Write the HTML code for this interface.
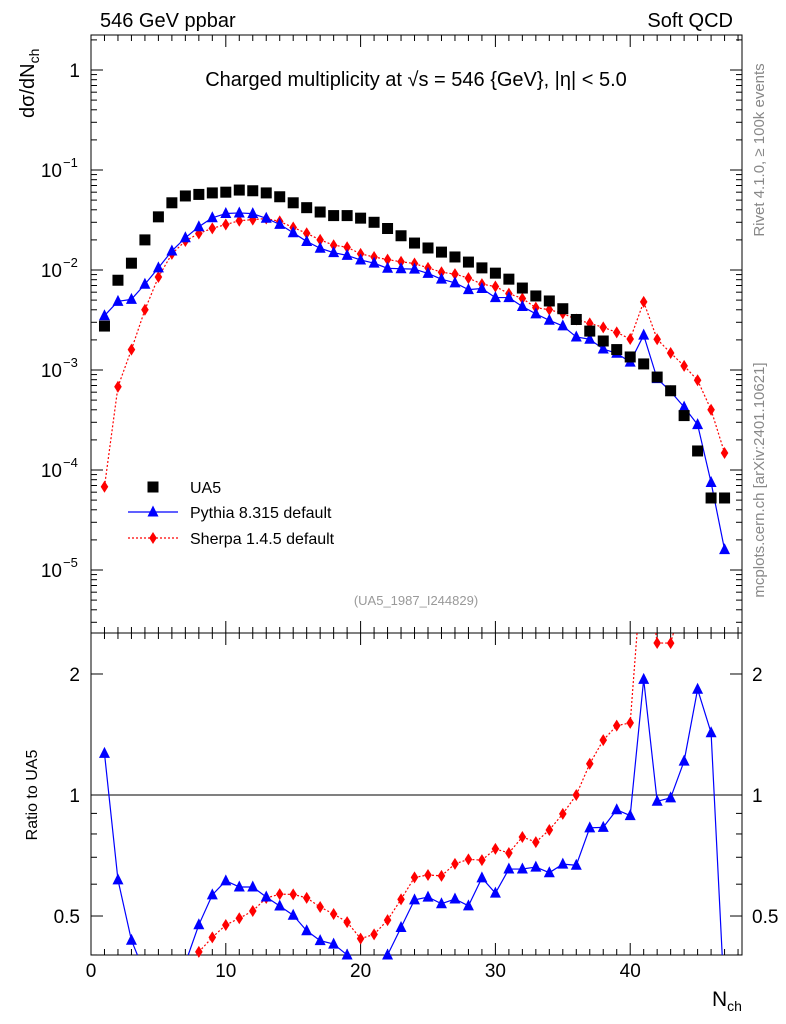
<!DOCTYPE html>
<html><head><meta charset="utf-8"><style>
html,body{margin:0;padding:0;background:#fff;overflow:hidden;width:786px;height:1024px;}
svg{display:block;font-family:"Liberation Sans",sans-serif;}
</style></head><body>
<svg id="chart" width="786" height="1024" viewBox="0 0 786 1024" xmlns="http://www.w3.org/2000/svg"></svg>
<script>
const nch = [1,2,3,4,5,6,7,8,9,10,11,12,13,14,15,16,17,18,19,20,21,22,23,24,25,26,27,28,29,30,31,32,33,34,35,36,37,38,39,40,41,42,43,44,45,46,47];
const ua5 = [0.00275,0.0079,0.0117,0.02,0.034,0.047,0.055,0.057,0.059,0.06,0.063,0.062,0.059,0.054,0.047,0.042,0.038,0.035,0.035,0.033,0.030,0.026,0.022,0.0186,0.0166,0.0151,0.0135,0.012,0.0105,0.0093,0.0081,0.0066,0.0055,0.0049,0.0041,0.0032,0.00245,0.00195,0.0016,0.00135,0.00115,0.00085,0.00062,0.00035,0.000155,0.0000525,0.0000525];
const pythia = [0.00349,0.00486,0.00509,0.0072,0.0105,0.0155,0.021,0.0271,0.0333,0.0367,0.0372,0.0366,0.0329,0.0286,0.0236,0.0193,0.0165,0.0149,0.014,0.0126,0.0117,0.0104,0.0103,0.0102,0.00925,0.0081,0.00744,0.00636,0.00653,0.0053,0.0053,0.00432,0.00364,0.00314,0.00276,0.00214,0.00203,0.00162,0.00147,0.0012,0.00223,0.00082,0.00061,0.000425,0.000284,0.000075,0.000016];
const sherpa = [0.000068,0.00068,0.0016,0.004,0.0085,0.0145,0.0195,0.0232,0.0261,0.0285,0.0311,0.0319,0.0327,0.0306,0.0266,0.0233,0.02,0.0177,0.0169,0.0145,0.0135,0.0127,0.0121,0.0116,0.0105,0.0095,0.0091,0.0083,0.00723,0.00683,0.00581,0.00519,0.0042,0.00401,0.00368,0.0032,0.00293,0.00267,0.00238,0.00204,0.0048,0.00203,0.00148,0.0011,0.00079,0.0004,0.000148];
const xTicks = [0,10,20,30,40];
const yDecades = [0,-1,-2,-3,-4,-5];
const ratioTicks = [0.5,1,2];

const NS="http://www.w3.org/2000/svg";
const svg=document.getElementById('chart');
const L=91,R=742,T1=35,B1=633,T2=633,B2=955;
const X=v=>L+v*13.48;
const Y=v=>70-100*Math.log10(v);
const YR=v=>795-402*Math.log10(v);
function el(tag,attrs,parent){const e=document.createElementNS(NS,tag);for(const k in attrs)e.setAttribute(k,attrs[k]);(parent||svg).appendChild(e);return e;}
function txt(s,attrs,parent){const e=el('text',attrs,parent);e.textContent=s;return e;}

const f1=el('rect',{x:L,y:T1,width:R-L,height:B1-T1,fill:'none',stroke:'#000','stroke-width':1});

const f2=el('rect',{x:L,y:T2,width:R-L,height:B2-T2,fill:'none',stroke:'#000','stroke-width':1});


const xt=el('g',{stroke:'#000','stroke-width':1});

for(let v=0;v<=48;v++){const x=X(v);if(x>R)break;const len=v%10===0?12:6;
 [[T1,1],[B1,-1],[T2,1],[B2,-1]].forEach(([y,d])=>el('line',{x1:x,x2:x,y1:y,y2:y+d*len},xt));}
xTicks.forEach(v=>{const t=txt(String(v),{x:X(v),y:977,'font-size':19,'text-anchor':'middle'});
 });
const xl=txt('N',{x:712,y:1006,'font-size':21});
const xls=el('tspan',{'font-size':14,dy:5},xl);xls.textContent='ch';

const yt=el('g',{stroke:'#000','stroke-width':1});

for(let d=-6;d<=0;d++){for(let m=1;m<10;m++){const v=m*Math.pow(10,d);const y=Y(v);if(y<T1||y>B1)continue;
 const len=m===1?12:6;el('line',{x1:L,x2:L+len,y1:y,y2:y},yt);el('line',{x1:R,x2:R-len,y1:y,y2:y},yt);}}
yDecades.forEach(d=>{const y=Y(Math.pow(10,d));
 let t;
 if(d===0){t=txt('1',{x:80,y:y+7,'font-size':19,'text-anchor':'end'});}
 else{t=txt('10',{x:62,y:y+7,'font-size':19,'text-anchor':'end'});
  const s=txt(String(d).replace('-','\u2212'),{x:63,y:y-3,'font-size':13});
  }
 });
const yl=el('text',{transform:'translate(34,118) rotate(-90)','font-size':20});

yl.textContent='dσ/dN';const yls=el('tspan',{'font-size':14,dy:5},yl);yls.textContent='ch';

const rt=el('g',{stroke:'#000','stroke-width':1});

[0.4,0.5,0.6,0.7,0.8,0.9,1,2].forEach(v=>{const y=YR(v);if(y<T2||y>B2)return;const len=(v===0.5||v===1||v===2)?12:6;
 el('line',{x1:L,x2:L+len,y1:y,y2:y},rt);el('line',{x1:R,x2:R-len,y1:y,y2:y},rt);});
ratioTicks.forEach(v=>{const y=YR(v);
 const a=txt(String(v),{x:80,y:y+7,'font-size':19,'text-anchor':'end'});
 const b=txt(String(v),{x:752,y:y+7,'font-size':19});});
const unity=el('line',{x1:L,x2:R,y1:YR(1),y2:YR(1),stroke:'#000','stroke-width':1});

const rl=txt('Ratio to UA5',{transform:'translate(37,795) rotate(-90)','font-size':16,'text-anchor':'middle'});


function marker(kind,x,y,color,g){
 if(kind==='sq')return el('rect',{x:x-5.5,y:y-5.5,width:11,height:11,fill:color},g);
 if(kind==='tri')return el('polygon',{points:`${x},${y-6.5} ${x+5.5},${y+4.5} ${x-5.5},${y+4.5}`,fill:color},g);
 return el('polygon',{points:`${x},${y-6} ${x+3.8},${y} ${x},${y+6} ${x-3.8},${y}`,fill:color},g);
}
function clipSeg(x1,y1,x2,y2,top,bot){
 // clip segment to y in [top,bot]
 let t0=0,t1=1;const dy=y2-y1;
 if(dy===0){if(y1<top||y1>bot)return null;}
 else{let ta=(top-y1)/dy,tb=(bot-y1)/dy;if(ta>tb)[ta,tb]=[tb,ta];t0=Math.max(t0,ta);t1=Math.min(t1,tb);if(t0>t1)return null;}
 return [x1+(x2-x1)*t0,y1+dy*t0,x1+(x2-x1)*t1,y1+dy*t1];
}
function series(vals,yf,top,bot,kind,color,dash,name,line){
 const g=el('g',{});
 
 if(line){let d='';
  for(let i=0;i<vals.length-1;i++){const s=clipSeg(X(nch[i]),yf(vals[i]),X(nch[i+1]),yf(vals[i+1]),top,bot);
   if(s)d+=`M${s[0].toFixed(2)},${s[1].toFixed(2)}L${s[2].toFixed(2)},${s[3].toFixed(2)}`;}
  const p=el('path',{d:d,fill:'none',stroke:color,'stroke-width':1.2},g);if(dash)p.setAttribute('stroke-dasharray',dash);}
 vals.forEach((v,i)=>{const y=yf(v);if(y<top||y>bot)return;const m=marker(kind,X(nch[i]),y,color,g);
  });
}
series(sherpa,Y,T1,B1,'dia','#f00','2,2','sherpa-series',true);
series(pythia,Y,T1,B1,'tri','#00f',null,'pythia-series',true);
series(ua5,Y,T1,B1,'sq','#000',null,'ua5-series',false);
series(sherpa.map((v,i)=>v/ua5[i]),YR,T2,B2,'dia','#f00','2,2','sherpa-ratio',true);
series(pythia.map((v,i)=>v/ua5[i]),YR,T2,B2,'tri','#00f',null,'pythia-ratio',true);

const t1=txt('546 GeV ppbar',{x:100,y:27,'font-size':20});
const t2=txt('Soft QCD',{x:733,y:27,'font-size':20,'text-anchor':'end'});
const t3=txt('Charged multiplicity at √s = 546 {GeV}, |η| < 5.0',{x:416,y:86,'font-size':20,'text-anchor':'middle'});
const t4=txt('(UA5_1987_I244829)',{x:416,y:605,'font-size':13,'text-anchor':'middle',fill:'#999'});
const t5=txt('Rivet 4.1.0, ≥ 100k events',{transform:'translate(764,150) rotate(-90)','font-size':15,'text-anchor':'middle',fill:'#888'});
const t6=txt('mcplots.cern.ch [arXiv:2401.10621]',{transform:'translate(764,480) rotate(-90)','font-size':15,'text-anchor':'middle',fill:'#888'});

const lg=el('g',{});
const e1=el('g',{},lg);
marker('sq',153,487,'#000',e1);txt('UA5',{x:190,y:493,'font-size':16},e1);
const e2=el('g',{},lg);
el('line',{x1:128,x2:178,y1:512,y2:512,stroke:'#00f','stroke-width':1.2},e2);marker('tri',153,512,'#00f',e2);txt('Pythia 8.315 default',{x:190,y:518,'font-size':16},e2);
const e3=el('g',{},lg);
el('line',{x1:128,x2:178,y1:538,y2:538,stroke:'#f00','stroke-width':1.2,'stroke-dasharray':'2,2'},e3);marker('dia',153,538,'#f00',e3);txt('Sherpa 1.4.5 default',{x:190,y:544,'font-size':16},e3);
</script>
</body></html>
